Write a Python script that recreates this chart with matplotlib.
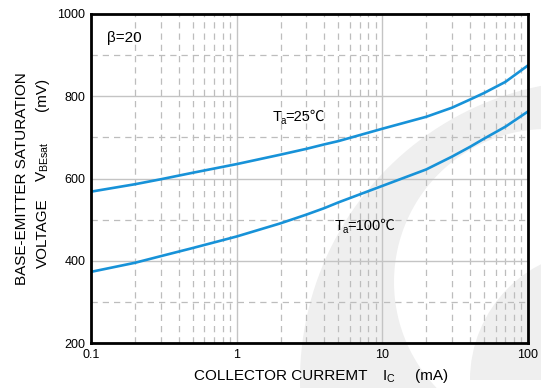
import matplotlib
matplotlib.use("Agg")
import numpy as np
import matplotlib.pyplot as plt
from matplotlib.path import Path
from matplotlib.patches import PathPatch, Wedge
from matplotlib.transforms import IdentityTransform
from matplotlib.ticker import FixedLocator, NullFormatter

plt.rcParams['font.family'] = ['Liberation Sans', 'DejaVu Sans']
plt.rcParams['mathtext.fontset'] = 'custom'
plt.rcParams['mathtext.rm'] = 'Liberation Sans'

# collector current (mA) vs base-emitter saturation voltage (mV)
ic_25 = [0.1, 0.2, 0.3, 0.5, 1, 2, 3, 4, 5, 10, 20, 30, 40, 50, 70, 100]
vbe_25 = [568, 586, 598, 614, 635, 658, 672, 683, 691, 721, 750, 772, 792, 808, 835, 875]

ic_100 = [0.1, 0.2, 0.3, 0.5, 1, 2, 3, 4, 5, 10, 20, 30, 40, 50, 70, 100]
vbe_100 = [373, 395, 411, 431, 459, 491, 512, 528, 542, 582, 622, 653, 677, 697, 726, 763]

x_ticks = [0.1, 1, 10, 100]
x_labels = ['0.1', '1', '10', '100']
y_ticks = [200, 400, 600, 800, 1000]
y_minor = [300, 500, 700, 900]

blue = '#1792d8'
wm_gray = '#efefef'
cjk = ['Liberation Sans', 'Noto Sans CJK SC', 'DejaVu Sans']

fig = plt.figure(figsize=(5.41, 3.88), dpi=100)


def ring(cx, cy, r, ccw=True, n=200):
    t = np.linspace(0, 2 * np.pi, n)
    if not ccw:
        t = t[::-1]
    return np.column_stack([cx + r * np.cos(t), cy + r * np.sin(t)])


# faint logo watermark behind the chart (pixel coordinates)
outer = ring(600, 8, 300)
inner = ring(547, 106, 153, ccw=False)
verts = np.vstack([outer, inner])
codes = ([Path.MOVETO] + [Path.LINETO] * (len(outer) - 1)
         + [Path.MOVETO] + [Path.LINETO] * (len(inner) - 1))
fig.add_artist(PathPatch(Path(verts, codes), facecolor=wm_gray, edgecolor='none',
                         transform=IdentityTransform(), zorder=0))
fig.add_artist(Wedge((600, 8), 130, 90, 180, width=75, facecolor=wm_gray,
                     edgecolor='none', transform=IdentityTransform(), zorder=0))

ax = fig.add_axes([91 / 541, 45 / 388, 437 / 541, 329 / 388])
ax.set_facecolor('none')
ax.set_zorder(1)

ax.set_xscale('log')
ax.set_xlim(0.1, 100)
ax.set_ylim(200, 1000)

ax.xaxis.set_major_locator(FixedLocator(x_ticks))
ax.set_xticklabels(x_labels)
ax.xaxis.set_minor_locator(FixedLocator([m * d for d in [0.1, 1, 10] for m in range(2, 10)]))
ax.xaxis.set_minor_formatter(NullFormatter())
ax.yaxis.set_major_locator(FixedLocator(y_ticks))
ax.yaxis.set_minor_locator(FixedLocator(y_minor))

ax.grid(which='major', color='#c4c4c4', linestyle='-', linewidth=1.0)
ax.grid(which='minor', color='#bdbdbd', linestyle=(0, (5, 4)), linewidth=0.9)
ax.tick_params(which='both', length=0, labelsize=9)
ax.tick_params(axis='y', pad=4)
ax.tick_params(axis='x', pad=4)

for s in ax.spines.values():
    s.set_linewidth(2)
    s.set_color('black')

ax.plot(ic_25, vbe_25, color=blue, linewidth=1.9)
ax.plot(ic_100, vbe_100, color=blue, linewidth=1.9)

ax.text(0.129, 942, 'β=20', fontsize=11, va='center')


def temp_label(x, y, rest):
    ax.annotate('T', (x, y), fontsize=10.5, va='baseline', ha='left')
    ax.annotate('a', (x, y), xytext=(5.8, -2.4), textcoords='offset points',
                fontsize=7, va='baseline', ha='left')
    ax.annotate(rest, (x, y), xytext=(9.1, 0), textcoords='offset points',
                fontsize=10.5, va='baseline', ha='left', family=cjk)


temp_label(1.756, 740, '=25℃')
temp_label(4.68, 475, '=100℃')

# x axis title
fig.text(194 / 541, 8 / 388, 'COLLECTOR CURREMT', fontsize=11, ha='left', va='baseline')
fig.text(382 / 541, 8 / 388, r'I$_\mathregular{C}$', fontsize=11, ha='left', va='baseline')
fig.text(415 / 541, 8 / 388, '(mA)', fontsize=11, ha='left', va='baseline')

# y axis title (two rotated lines)
fig.text(26 / 541, 103 / 388, 'BASE-EMITTER SATURATION', fontsize=11, rotation=90,
         rotation_mode='anchor', ha='left', va='baseline')
fig.text(46.5 / 541, 120 / 388, 'VOLTAGE', fontsize=11, rotation=90,
         rotation_mode='anchor', ha='left', va='baseline')
fig.text(46.5 / 541, 206 / 388, r'V$_\mathregular{BEsat}$', fontsize=11, rotation=90,
         rotation_mode='anchor', ha='left', va='baseline')
fig.text(46.5 / 541, 277 / 388, '(mV)', fontsize=11, rotation=90,
         rotation_mode='anchor', ha='left', va='baseline')

fig.savefig('out.png', dpi=100)
